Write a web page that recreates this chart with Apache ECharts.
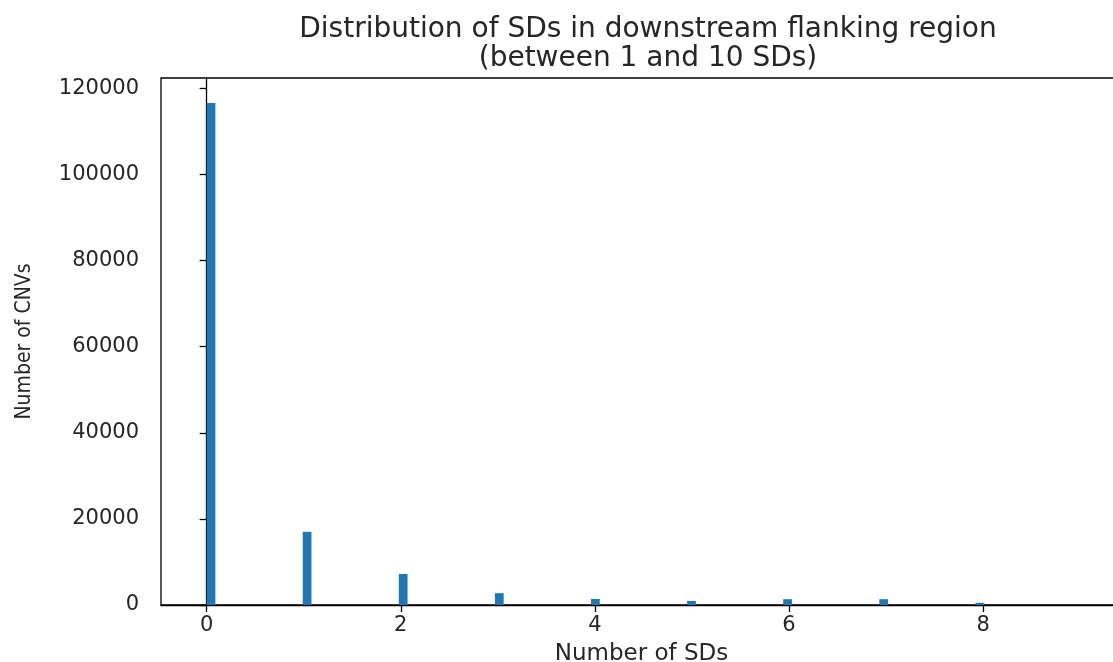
<!DOCTYPE html>
<html>
<head>
<meta charset="utf-8">
<script src="https://cdn.jsdelivr.net/npm/echarts@6/dist/echarts.min.js"></script>
<style>
html,body{margin:0;padding:0;background:#fff;}
#chart{width:1113px;height:662px;}
</style>
</head>
<body>
<div id="chart"></div>
<script>
// Histogram bins (left edges) and counts
const binStarts = [0, 0.99, 1.98, 2.97, 3.96, 4.95, 5.94, 6.93, 7.92];
const binWidth = 0.09;
const counts = [116600, 17000, 7200, 2750, 1400, 950, 1350, 1350, 500];
const xTicks = [0, 2, 4, 6, 8];
const yTicks = [0, 20000, 40000, 60000, 80000, 100000, 120000];
const titleText = 'Distribution of SDs in downstream flanking region\n(between 1 and 10 SDs)';
const xName = 'Number of SDs';
const yName = 'Number of CNVs';

const chart = echarts.init(document.getElementById('chart'), null, {renderer: 'canvas'});
const data = binStarts.map((s, i) => [s, s + binWidth, counts[i]]);
const textColor = '#262626';
chart.setOption({
  animation: false,
  backgroundColor: '#fff',
  title: {
    text: titleText,
    left: 643, textAlign: 'center',
    top: 10,
    textStyle: {fontFamily: 'DejaVu Sans', fontSize: 28, fontWeight: 'normal', color: textColor, lineHeight: 29}
  },
  grid: {left: 161, top: 78, width: 961, height: 527, show: true, borderColor: '#000', borderWidth: 1.3,
         containLabel: false, outerBoundsMode: 'none'},
  xAxis: {
    type: 'value', min: -0.47, max: 9.43,
    name: xName, nameLocation: 'middle', nameGap: 38,
    nameTextStyle: {fontFamily: 'DejaVu Sans', fontSize: 23, color: textColor},
    axisLine: {show: true, lineStyle: {color: '#000', width: 1.3}},
    axisTick: {show: true, length: 7, customValues: xTicks, lineStyle: {color: '#000', width: 1.3}},
    axisLabel: {customValues: xTicks, fontFamily: 'DejaVu Sans', fontSize: 21, color: textColor, margin: 10,
                formatter: v => String(v)},
    splitLine: {show: false}
  },
  yAxis: {
    type: 'value', min: 0, max: 122430,
    name: yName, nameLocation: 'middle', nameGap: 126, nameRotate: 90,
    nameTextStyle: {fontFamily: 'DejaVu Sans Condensed, Liberation Sans Narrow, DejaVu Sans', fontSize: 21, color: textColor},
    axisLine: {show: true, lineStyle: {color: '#000', width: 1.3}},
    axisTick: {show: true, length: 7, customValues: yTicks, lineStyle: {color: '#000', width: 1.3}},
    axisLabel: {customValues: yTicks, fontFamily: 'DejaVu Sans', fontSize: 21, color: textColor, margin: 22,
                formatter: v => String(v)},
    splitLine: {show: false}
  },
  series: [{
    type: 'custom',
    data: data,
    encode: {x: [0, 1], y: 2},
    renderItem: function (params, api) {
      const p0 = api.coord([api.value(0), 0]);
      const p1 = api.coord([api.value(1), api.value(2)]);
      return {
        type: 'rect',
        shape: {x: p0[0], y: p1[1], width: p1[0] - p0[0], height: p0[1] - p1[1]},
        style: {fill: '#1f77b4'}
      };
    }
  }]
});
</script>
</body>
</html>
